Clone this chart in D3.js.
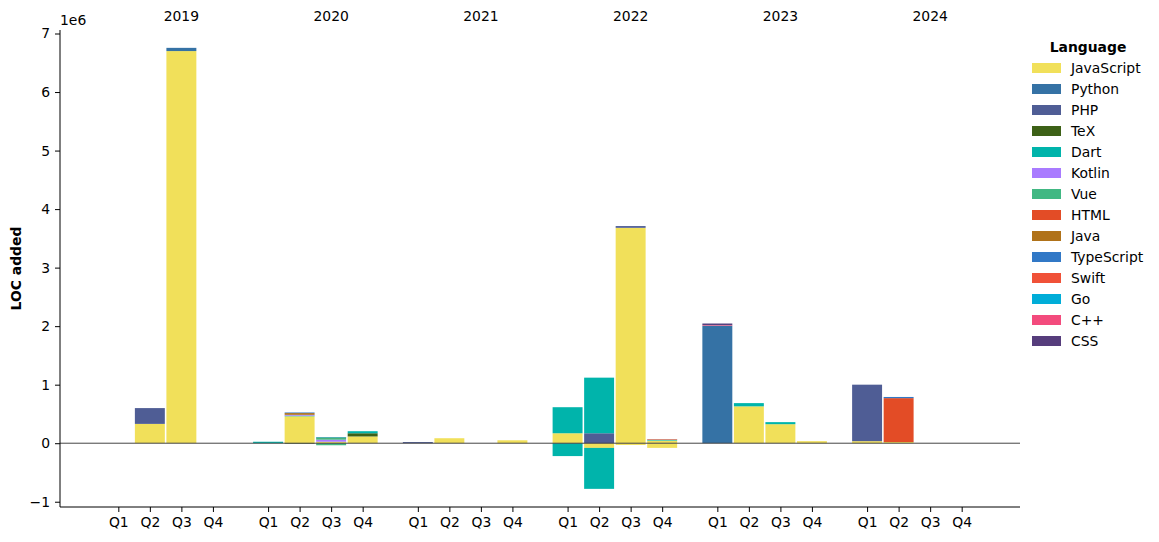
<!DOCTYPE html>
<html>
<head>
<meta charset="utf-8">
<script src="https://cdn.jsdelivr.net/npm/d3@7"></script>
<style>
  body { margin: 0; background: #fff; }
  svg { display: block; font-family: "DejaVu Sans", sans-serif; }
</style>
</head>
<body>
<svg id="chart" width="1159" height="542"></svg>
<script>
// ---------- data ----------
const years = ["2019", "2020", "2021", "2022", "2023", "2024"];
const quarters = ["Q1", "Q2", "Q3", "Q4"];
const languages = ["JavaScript", "Python", "PHP", "TeX", "Dart", "Kotlin", "Vue", "HTML", "Java", "TypeScript", "Swift", "Go", "C++", "CSS"];
const colors = ["#f1e05a", "#3572A5", "#4F5D95", "#3D6117", "#00B4AB", "#A97BFF", "#41b883", "#e34c26", "#b07219", "#3178c6", "#F05138", "#00ADD8", "#f34b7d", "#563d7c"];

// positive LOC per language, 24 quarters (2019 Q1 .. 2024 Q4)
const positiveValues = [
  /* JavaScript */ [0, 330000, 6700000, 0, 0, 460000, 25000, 115000, 0, 85000, 0, 50000, 170000, 0, 3680000, 45000, 0, 630000, 325000, 35000, 35000, 20000, 0, 0],
  /* Python     */ [0, 0, 55000, 0, 0, 0, 0, 0, 0, 0, 0, 0, 0, 0, 0, 0, 2010000, 0, 0, 0, 0, 0, 0, 0],
  /* PHP        */ [0, 270000, 0, 0, 0, 0, 0, 0, 20000, 0, 0, 0, 0, 170000, 30000, 0, 0, 0, 0, 0, 965000, 0, 0, 0],
  /* TeX        */ [0, 0, 0, 0, 0, 0, 0, 55000, 0, 0, 0, 0, 0, 0, 0, 0, 0, 0, 0, 0, 0, 0, 0, 0],
  /* Dart       */ [0, 0, 0, 0, 25000, 10000, 0, 35000, 0, 0, 0, 0, 445000, 950000, 0, 15000, 0, 55000, 35000, 0, 0, 0, 0, 0],
  /* Kotlin     */ [0, 0, 0, 0, 0, 15000, 35000, 0, 0, 0, 0, 0, 0, 0, 0, 0, 0, 0, 0, 0, 0, 0, 0, 0],
  /* Vue        */ [0, 0, 0, 0, 0, 0, 30000, 0, 0, 0, 0, 0, 0, 0, 0, 0, 0, 0, 0, 0, 0, 0, 0, 0],
  /* HTML       */ [0, 0, 0, 0, 0, 0, 0, 0, 0, 0, 0, 0, 0, 0, 0, 0, 0, 0, 0, 0, 0, 750000, 0, 0],
  /* Java       */ [0, 0, 0, 0, 0, 30000, 8000, 0, 0, 0, 0, 0, 0, 0, 0, 0, 0, 0, 0, 0, 0, 0, 0, 0],
  /* TypeScript */ [0, 0, 0, 0, 0, 10000, 0, 0, 0, 0, 0, 0, 0, 0, 0, 0, 0, 0, 0, 0, 0, 20000, 0, 0],
  /* Swift      */ [0, 0, 0, 0, 0, 0, 0, 0, 0, 0, 0, 0, 0, 0, 0, 5000, 0, 0, 0, 0, 0, 0, 0, 0],
  /* Go         */ [0, 0, 0, 0, 0, 0, 5000, 0, 0, 0, 0, 0, 0, 0, 0, 0, 0, 0, 0, 0, 0, 0, 0, 0],
  /* C++        */ [0, 0, 0, 0, 0, 0, 0, 0, 0, 0, 0, 0, 0, 0, 0, 0, 10000, 0, 0, 0, 0, 0, 0, 0],
  /* CSS        */ [0, 0, 0, 0, 0, 0, 0, 0, 0, 0, 0, 0, 0, 0, 0, 0, 25000, 0, 0, 0, 0, 0, 0, 0]
];
// negative LOC per language (only non-zero entries listed: [quarterIndex, value])
const negativeJavaScript = [[13, -80000], [14, -30000], [15, -80000]];
const negativeTeX = [[5, -8000]];
const negativeDart = [[12, -220000], [13, -700000]];
const negativeVue = [[6, -35000]];

const yTicks = [-1, 0, 1, 2, 3, 4, 5, 6, 7];

// ---------- layout ----------
const svg = d3.select("#chart");
const plotLeft = 60, plotRight = 1020, plotTop = 30, plotBottom = 507;
const fs = 13.9;
const yearGap = 4.75;
const pos = (yi, qi) => yi * yearGap + qi;

const x = d3.scaleLinear().domain([-1.85, pos(5, 3) + 1.85]).range([plotLeft, plotRight]);
const y = d3.scaleLinear().domain([-1.09e6, 7.06e6]).range([plotBottom, plotTop]);
const barW = (x(1) - x(0)) * 0.95;

// build negatives array
const negativeMap = { "JavaScript": negativeJavaScript, "TeX": negativeTeX, "Dart": negativeDart, "Vue": negativeVue };
const negativeValues = languages.map(l => {
  const arr = new Array(24).fill(0);
  (negativeMap[l] || []).forEach(([i, v]) => arr[i] = v);
  return arr;
});

// stacked segments
const segments = [];
for (let k = 0; k < 24; k++) {
  let up = 0, down = 0;
  const yi = Math.floor(k / 4), qi = k % 4;
  languages.forEach((lang, li) => {
    const p = positiveValues[li][k];
    if (p > 0) { segments.push({ k, yi, qi, li, y0: up, y1: up + p }); up += p; }
    const n = negativeValues[li][k];
    if (n < 0) { segments.push({ k, yi, qi, li, y0: down + n, y1: down }); down += n; }
  });
}

svg.append("g").selectAll("rect").data(segments).join("rect")
  .attr("x", d => x(pos(d.yi, d.qi)) - barW / 2)
  .attr("width", barW)
  .attr("y", d => y(d.y1))
  .attr("height", d => Math.max(0.6, y(d.y0) - y(d.y1)))
  .attr("fill", d => colors[d.li]);

// zero line
svg.append("line")
  .attr("x1", plotLeft).attr("x2", plotRight)
  .attr("y1", y(0)).attr("y2", y(0))
  .attr("stroke", "#444").attr("stroke-width", 1);

// y axis
const yAxis = d3.axisLeft(y)
  .tickValues(yTicks.map(v => v * 1e6))
  .tickFormat(v => String(Math.round(v / 1e6)).replace("-", "\u2212"))
  .tickSizeOuter(0).tickSize(5).tickPadding(5);
const gy = svg.append("g").attr("transform", `translate(${plotLeft},0)`).call(yAxis);
gy.select(".domain").attr("d", `M0,${plotTop}V${plotBottom}`);

// x axis
const tickPos = [];
const tickLab = [];
years.forEach((yr, yi) => quarters.forEach((q, qi) => { tickPos.push(pos(yi, qi)); tickLab.push(q); }));
const xAxis = d3.axisBottom(x).tickValues(tickPos).tickFormat((d, i) => tickLab[i]).tickSizeOuter(0).tickSize(5).tickPadding(5);
const gx = svg.append("g").attr("transform", `translate(0,${plotBottom})`).call(xAxis);
gx.select(".domain").attr("d", `M${plotLeft},0H${plotRight}`);

[gx, gy].forEach(g => {
  g.attr("font-size", fs).attr("font-family", "DejaVu Sans");
  g.selectAll("text").attr("font-size", fs).attr("fill", "#000");
  g.selectAll("line").attr("stroke", "#000").attr("stroke-width", 1);
  g.select(".domain").attr("stroke", "#000").attr("stroke-width", 1);
});

// year labels
svg.append("g").selectAll("text").data(years).join("text")
  .attr("x", (d, i) => x(pos(i, 2)))
  .attr("y", 21)
  .attr("text-anchor", "middle")
  .attr("font-size", fs)
  .text(d => d);

// offset label
svg.append("text").attr("x", plotLeft).attr("y", 25).attr("font-size", fs).text("1e6");

// y label
svg.append("text")
  .attr("transform", `translate(21,${(plotTop + plotBottom) / 2}) rotate(-90)`)
  .attr("text-anchor", "middle")
  .attr("font-size", fs).attr("font-weight", "bold")
  .text("LOC added");

// legend
const lg = svg.append("g");
lg.append("text").attr("x", 1088).attr("y", 52).attr("text-anchor", "middle")
  .attr("font-size", fs).attr("font-weight", "bold").text("Language");
const items = lg.selectAll("g.item").data(languages).join("g").attr("class", "item")
  .attr("transform", (d, i) => `translate(1032,${68 + i * 21})`);
items.append("rect").attr("x", 0).attr("y", -5).attr("width", 29).attr("height", 10)
  .attr("fill", (d, i) => colors[i]);
items.append("text").attr("x", 39).attr("y", 0).attr("dy", "0.35em").attr("font-size", fs).text(d => d);
</script>
</body>
</html>
